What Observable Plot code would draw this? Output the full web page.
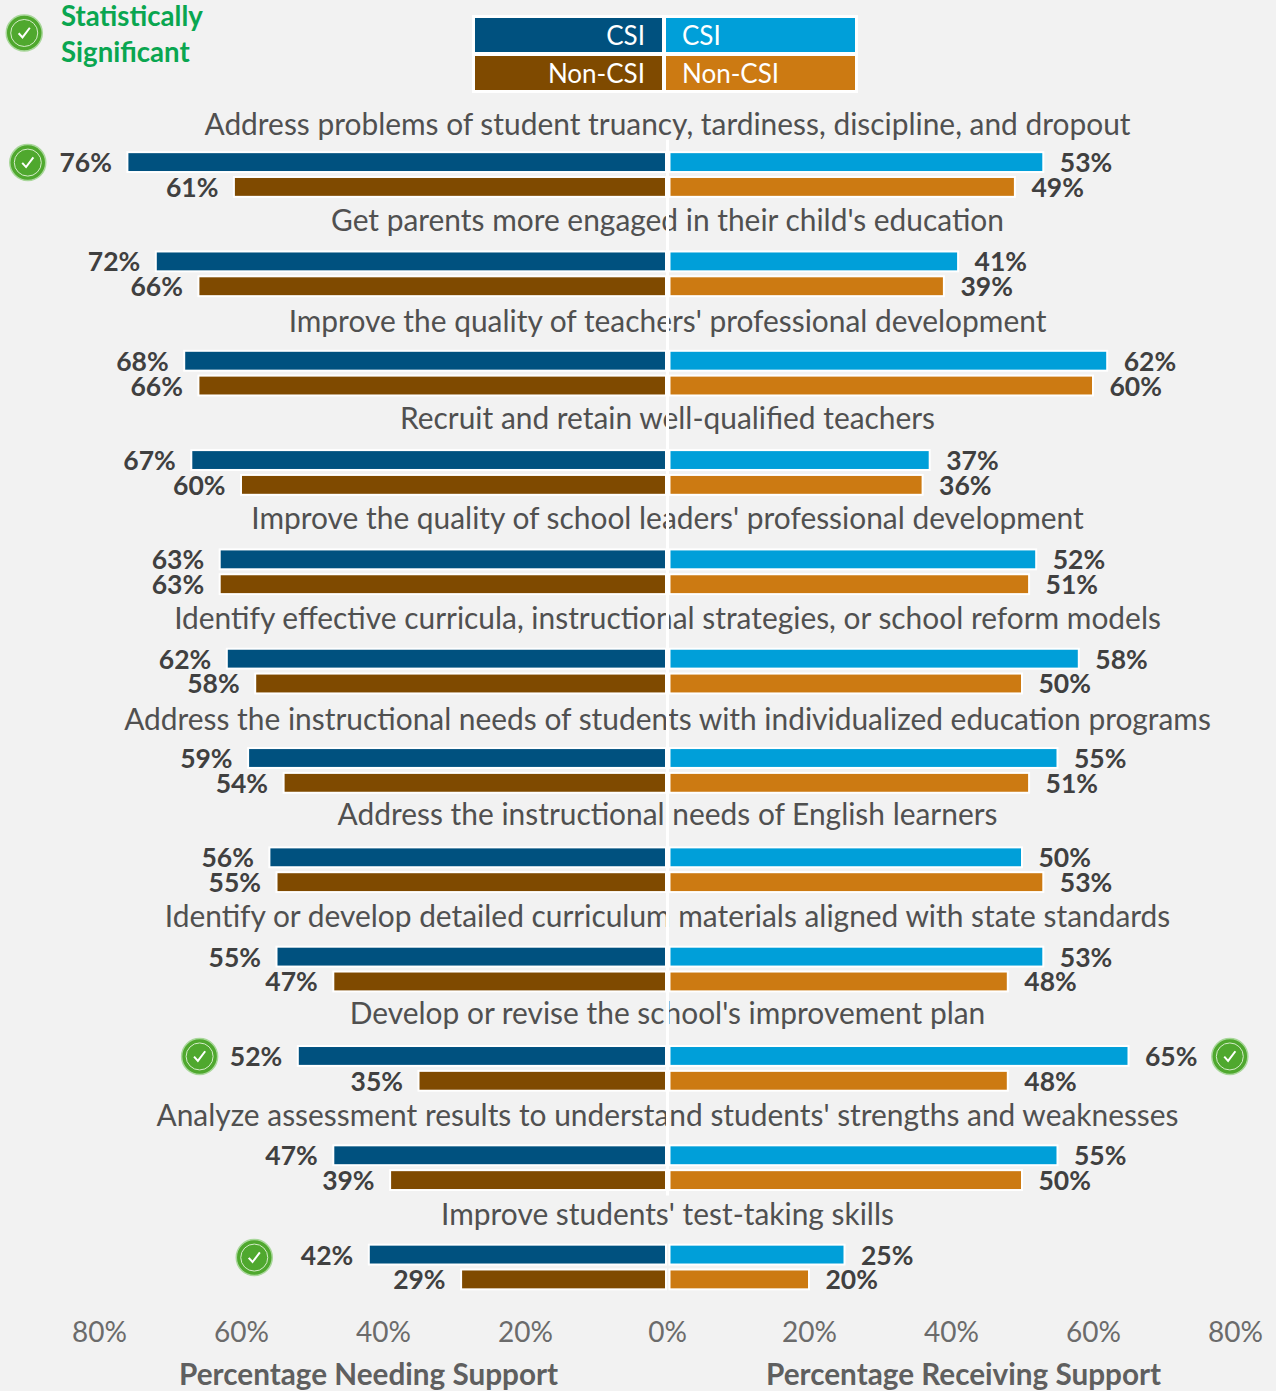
<!DOCTYPE html>
<html>
<head>
<meta charset="utf-8">
<script src="https://cdn.jsdelivr.net/npm/d3@7"></script>
<script src="https://cdn.jsdelivr.net/npm/@observablehq/plot@0.6"></script>
<style>
  html, body { margin: 0; background: #f2f2f2; }
  #page { position: relative; width: 1276px; height: 1391px; font-family: Lato, sans-serif; overflow: hidden; }
  #page svg { display: block; }
  .key-note { position: absolute; left: 61px; color: #0aa650; font-weight: 700; font-size: 27.6px; line-height: 30px; white-space: nowrap; }
  .legend { position: absolute; left: 472px; top: 15px; width: 386px; height: 78px; background: #fff; }
  .legend div { position: absolute; width: 187px; height: 34px; line-height: 35px; color: #fff; font-size: 26px; box-sizing: border-box; }
  .legend .l { left: 3px; text-align: right; padding-right: 17px; }
  .legend .r { left: 194px; width: 189px; padding-left: 16px; }
  .legend .t { top: 3px; } .legend .b { top: 41px; }
</style>
</head>
<body>
<div id="page"></div>
<script>
// Support areas, ordered by share of CSI schools reporting a need
const topics = [
  "Address problems of student truancy, tardiness, discipline, and dropout",
  "Get parents more engaged in their child's education",
  "Improve the quality of teachers' professional development",
  "Recruit and retain well-qualified teachers",
  "Improve the quality of school leaders' professional development",
  "Identify effective curricula, instructional strategies, or school reform models",
  "Address the instructional needs of students with individualized education programs",
  "Address the instructional needs of English learners",
  "Identify or develop detailed curriculum materials aligned with state standards",
  "Develop or revise the school's improvement plan",
  "Analyze assessment results to understand students' strengths and weaknesses",
  "Improve students' test-taking skills"
];
const needCSI     = [76, 72, 68, 67, 63, 62, 59, 56, 55, 52, 47, 42];
const needNonCSI  = [61, 66, 66, 60, 63, 58, 54, 55, 47, 35, 39, 29];
const recvCSI     = [53, 41, 62, 37, 52, 58, 55, 50, 53, 65, 55, 25];
const recvNonCSI  = [49, 39, 60, 36, 51, 50, 51, 53, 48, 48, 50, 20];
const axisTicks   = [-80, -60, -40, -20, 0, 20, 40, 60, 80];

// Significant differences: row and where the badge sits on the percentage axis
const badgeRows = [0, 9, 9, 11.025];
const badgeAxis = [-90.1, -65.9, 79.2, -58.2];

const colors = {needCSI: "#00517f", needNonCSI: "#7f4a00", recvCSI: "#009fd9", recvNonCSI: "#cc7a12"};
const slot = {csi: -0.125, non: 0.125};
const barHalf = 0.1;

const bars = [];
topics.forEach((t, i) => {
  bars.push({row: i, v: -needCSI[i],    y: i + slot.csi, c: colors.needCSI});
  bars.push({row: i, v: -needNonCSI[i], y: i + slot.non, c: colors.needNonCSI});
  bars.push({row: i, v: recvCSI[i],     y: i + slot.csi, c: colors.recvCSI});
  bars.push({row: i, v: recvNonCSI[i],  y: i + slot.non, c: colors.recvNonCSI});
});
const left = bars.filter(d => d.v < 0), right = bars.filter(d => d.v > 0);

// Pixel lift of each topic heading above the centre of its pair of bars
const headingLift = [49.5, 52.8, 51.1, 53.5, 52.8, 52.1, 50.4, 54.7, 52.1, 54.4, 51.7, 52];

const badges = badgeRows.map((r, i) => ({x: badgeAxis[i], y: r + slot.csi}));
badges.push({x: -90.6, y: -1.43});

const checkSymbol = {
  draw(ctx, size) {
    const s = Math.sqrt(size);
    ctx.moveTo(-0.45 * s, 0.02 * s);
    ctx.lineTo(-0.14 * s, 0.36 * s);
    ctx.lineTo(0.45 * s, -0.42 * s);
  }
};

const barStyle = {fill: "c", stroke: "#fff", strokeWidth: 2};
const valueStyle = {text: d => `${Math.abs(d.v)}%`, fill: "#404040", fontSize: 26.5, fontWeight: 700, dy: 1};

const chart = Plot.plot({
  width: 1276,
  height: 1391,
  marginTop: 0, marginRight: 0, marginLeft: 0, marginBottom: 73,
  style: {background: "transparent", fontFamily: "Lato, sans-serif"},
  x: {domain: [-80, 80], range: [99, 1235], label: null},
  y: {domain: [0, 11], range: [174.5, 1267], axis: null},
  marks: [
    Plot.text(topics, {
      x: 0,
      y: (d, i) => i - headingLift[i] / 99.32,
      text: d => d,
      fill: "#505050",
      fontSize: 29.9
    }),
    Plot.ruleX([0], {y1: -0.35, y2: 10.28, stroke: "#fff", strokeWidth: 3}),
    Plot.rect(left, {x1: "v", x2: 0, y1: d => d.y - barHalf, y2: d => d.y + barHalf, insetRight: 1, ...barStyle}),
    Plot.rect(right, {x1: 0, x2: "v", y1: d => d.y - barHalf, y2: d => d.y + barHalf, insetLeft: 2.5, ...barStyle}),
    Plot.text(left, {x: "v", y: "y", textAnchor: "end", dx: -16, ...valueStyle}),
    Plot.text(right, {x: "v", y: "y", textAnchor: "start", dx: 16, ...valueStyle}),
    Plot.dot(badges, {x: "x", y: "y", r: 18, fill: "#4fa82e", stroke: "#a9d79b", strokeWidth: 1.5}),
    Plot.dot(badges, {x: "x", y: "y", r: 13.5, fill: "none", stroke: "#d5ecc9", strokeWidth: 1}),
    Plot.dot(badges, {x: "x", y: "y", r: 7, symbol: checkSymbol, fill: "none", stroke: "#fff", strokeWidth: 2}),
    Plot.axisX({
      ticks: axisTicks,
      tickFormat: d => `${Math.abs(d)}%`,
      tickSize: 0,
      tickPadding: 4,
      fontSize: 28,
      color: "#6b6b6b",
      label: null
    }),
    Plot.text(["Percentage Needing Support", "Percentage Receiving Support"], {
      x: [-42.1, 41.7],
      y: [12.09, 12.09],
      text: d => d,
      fill: "#5f5f5f",
      fontSize: 29.7,
      fontWeight: 700
    })
  ]
});

const page = document.getElementById("page");
page.appendChild(chart);

[["Statistically", 1], ["Significant", 37]].forEach(([line, top]) => {
  const note = document.createElement("div");
  note.className = "key-note";
  note.style.top = `${top}px`;
  note.textContent = line;
  page.appendChild(note);
});

const legend = document.createElement("div");
legend.className = "legend";
[["l t", "CSI", colors.needCSI], ["r t", "CSI", colors.recvCSI],
 ["l b", "Non-CSI", colors.needNonCSI], ["r b", "Non-CSI", colors.recvNonCSI]].forEach(([cls, label, color]) => {
  const cell = document.createElement("div");
  cell.className = cls;
  cell.textContent = label;
  cell.style.background = color;
  legend.appendChild(cell);
});
page.appendChild(legend);
</script>
</body>
</html>
